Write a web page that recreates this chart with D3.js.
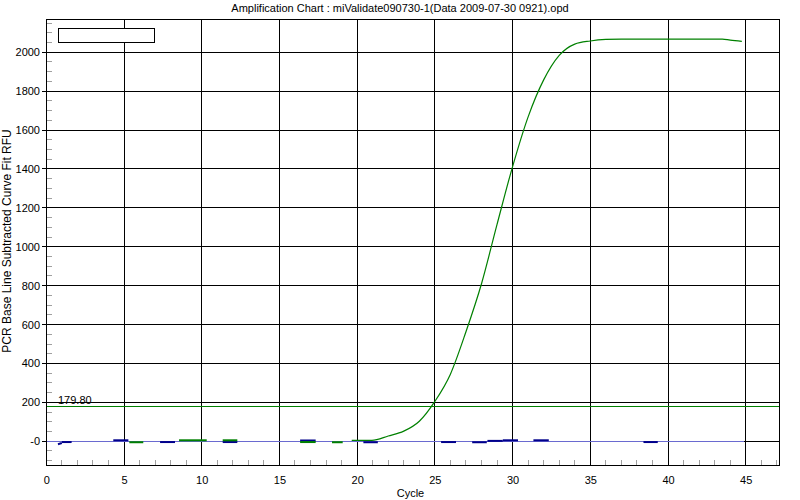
<!DOCTYPE html>
<html><head><meta charset="utf-8">
<script src="https://cdn.jsdelivr.net/npm/d3@7"></script>
<style>
html,body{margin:0;padding:0;background:#fff;}
svg{display:block;font-family:Arial,"Liberation Sans",sans-serif;}
</style></head>
<body><svg id="chart" width="800" height="500"></svg>
<script>
// ---- data ----
const titleText = "Amplification Chart : miValidate090730-1(Data 2009-07-30 0921).opd";
const xTitle = "Cycle";
const yTitle = "PCR Base Line Subtracted Curve Fit RFU";
const xTicks = [0, 5, 10, 15, 20, 25, 30, 35, 40, 45];
const yTicks = [0, 200, 400, 600, 800, 1000, 1200, 1400, 1600, 1800, 2000];
const yTickLabels = ["-0", "200", "400", "600", "800", "1000", "1200", "1400", "1600", "1800", "2000"];
const threshold = 179.80;
const thresholdLabel = "179.80";
// main amplification curve
const curveCycles = [19.65, 20.95, 22, 23, 24, 25, 26, 27, 28, 29, 30, 31, 32, 33, 34, 35, 36, 37, 38, 39, 40, 41, 42, 43, 43.5, 44, 44.75];
const curveValues = [5, 5, 27, 52, 103, 205, 345, 563, 810, 1115, 1412, 1668, 1858, 1984, 2042, 2058, 2066, 2068, 2068, 2068, 2068, 2068, 2068, 2068, 2068, 2062, 2056];
// baseline (zero) trace extent
const baselineStart = 0, baselineEnd = 44.85;
// short segments of the flat (non-amplifying) traces
const segStart = [0.75, 1.0, 4.31, 5.34, 7.32, 8.54, 11.35, 11.35, 16.33, 16.33, 18.38, 20.4, 25.4, 27.4, 28.38, 29.37, 31.34, 38.42];
const segEnd   = [1.0, 1.63, 5.28, 6.24, 8.28, 10.32, 12.29, 12.29, 17.33, 17.33, 19.07, 21.33, 26.36, 28.34, 29.37, 30.35, 32.33, 39.34];
const segFrom  = [-15, -4, 5, -5, -4, 5, -4, 5, 4, -4, -5, -5, -4, -5, 2, 5, 5, -4];
const segTo    = [-9, -4, 5, -5, -4, 5, -4, 5, 4, -4, -5, -5, -4, -5, 2, 5, 5, -4];
const segSeries = ["b","b","b","g","b","g","b","g","b","g","g","b","b","b","b","b","b","b"];

// ---- layout ----
const svg = d3.select("#chart");
const L = 46.3, R = 779.3, T = 19, B = 465;
const x = d3.scaleLinear().domain([0, 47.16]).range([L, R]);
const y = d3.scaleLinear().domain([-122, 2171]).range([B, T]);
const px = v => Math.floor(v) + 0.5;
const colors = {b: "#00008b", g: "#008000"};

svg.append("rect").attr("width", 800).attr("height", 500).attr("fill", "#fff");

// title
svg.append("text").attr("x", 400).attr("y", 11.5).attr("text-anchor", "middle")
  .attr("font-size", 11).attr("fill", "#000").text(titleText);

// plot background
svg.append("rect").attr("x", px(L)).attr("y", px(T)).attr("width", px(R) - px(L)).attr("height", px(B) - px(T))
  .attr("fill", "#fff");

// minor ticks (gray)
const g = svg.append("g").attr("shape-rendering", "crispEdges");
const minorY = d3.range(-100, 2171, 50).filter(v => v % 200 !== 0);
g.selectAll(".my").data(minorY).enter().append("line")
  .attr("x1", px(L)).attr("x2", px(L) + 5).attr("y1", d => px(y(d))).attr("y2", d => px(y(d)))
  .attr("stroke", "#a0a0a0");
const minorX = d3.range(1, 47.1, 1).filter(v => v % 5 !== 0);
g.selectAll(".mx").data(minorX).enter().append("line")
  .attr("x1", d => px(x(d))).attr("x2", d => px(x(d))).attr("y1", px(B) - 6).attr("y2", px(B))
  .attr("stroke", "#a0a0a0");

// grid lines
g.selectAll(".gx").data(xTicks.filter(d => d > 0)).enter().append("line")
  .attr("x1", d => px(x(d))).attr("x2", d => px(x(d))).attr("y1", px(T)).attr("y2", px(B))
  .attr("stroke", "#000");
g.selectAll(".gy").data(yTicks).enter().append("line")
  .attr("x1", px(L)).attr("x2", px(R)).attr("y1", d => px(y(d))).attr("y2", d => px(y(d)))
  .attr("stroke", "#000");
// major y ticks outside
g.selectAll(".ty").data(yTicks).enter().append("line")
  .attr("x1", px(L) - 5).attr("x2", px(L)).attr("y1", d => px(y(d))).attr("y2", d => px(y(d)))
  .attr("stroke", "#000");

// axes labels
svg.selectAll(".yl").data(yTicks).enter().append("text")
  .attr("x", 40).attr("y", d => y(d) + 4).attr("text-anchor", "end")
  .attr("font-size", 11).attr("fill", "#000").text((d, i) => yTickLabels[i]);
svg.selectAll(".xl").data(xTicks).enter().append("text")
  .attr("x", d => x(d) + 0.5).attr("y", 483.5).attr("text-anchor", "middle")
  .attr("font-size", 11).attr("fill", "#000").text(d => d);
svg.append("text").attr("x", 410.5).attr("y", 497).attr("text-anchor", "middle")
  .attr("font-size", 11).attr("fill", "#000").text(xTitle);
svg.append("text").attr("transform", "translate(11,241) rotate(-90)").attr("text-anchor", "middle")
  .attr("font-size", 12).attr("fill", "#000").text(yTitle);

// threshold
g.append("line").attr("x1", px(L)).attr("x2", px(R)).attr("y1", px(y(threshold))).attr("y2", px(y(threshold)))
  .attr("stroke", "#008000");
svg.append("text").attr("x", 58).attr("y", px(y(threshold)) - 3).attr("font-size", 11).attr("fill", "#000")
  .text(thresholdLabel);

// baseline trace
g.append("line").attr("x1", px(x(baselineStart))).attr("x2", px(x(baselineEnd)))
  .attr("y1", px(y(0))).attr("y2", px(y(0))).attr("stroke", "#6a6ad0");

// short flat-trace segments
svg.selectAll(".seg").data(segStart).enter().append("line")
  .attr("x1", (d, i) => x(segStart[i])).attr("x2", (d, i) => x(segEnd[i]))
  .attr("y1", (d, i) => y(segFrom[i])).attr("y2", (d, i) => y(segTo[i]))
  .attr("stroke", (d, i) => colors[segSeries[i]]).attr("stroke-width", 2);

// amplification curve
const line = d3.line().x(d => x(d[0])).y(d => y(d[1])).curve(d3.curveMonotoneX);
svg.append("path").datum(curveCycles.map((c, i) => [c, curveValues[i]]))
  .attr("d", line).attr("fill", "none").attr("stroke", "#008000").attr("stroke-width", 1.2);

// border
g.append("rect").attr("x", px(L)).attr("y", px(T)).attr("width", px(R) - px(L)).attr("height", px(B) - px(T))
  .attr("fill", "none").attr("stroke", "#000");

// legend box
g.append("rect").attr("x", 58.5).attr("y", 28.5).attr("width", 96).attr("height", 14)
  .attr("fill", "#fff").attr("stroke", "#000").attr("stroke-width", 1.3);
</script></body></html>
